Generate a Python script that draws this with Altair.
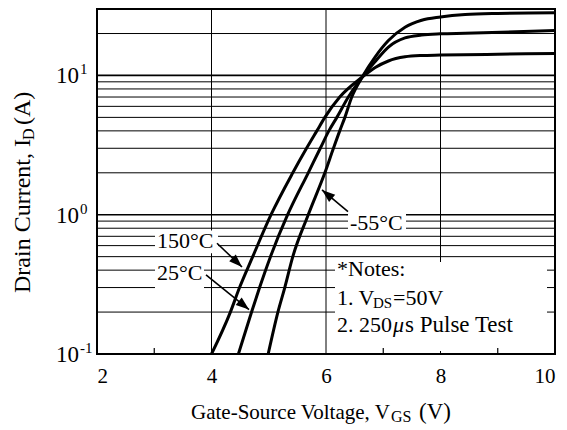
import altair as alt
import pandas as pd

# ---------------- data ----------------
vgs_150 = [4.00, 4.33, 4.49, 4.72, 5.04, 5.42, 5.66, 5.84, 5.98, 6.24, 6.63, 6.86, 7.09, 7.38, 7.67, 8.00, 9.00, 10.0]
id_150 = [0.1, 0.2, 0.3, 0.5, 1.0, 2.0, 3.0, 4.0, 5.0, 7.0, 9.7, 11.4, 12.7, 13.6, 13.9, 14.0, 14.2, 14.4]

vgs_25 = [4.47, 4.70, 4.84, 5.03, 5.33, 5.69, 5.90, 6.05, 6.19, 6.39, 6.63, 6.86, 7.09, 7.38, 7.67, 8.00, 8.43, 10.0]
id_25 = [0.1, 0.2, 0.3, 0.5, 1.0, 2.0, 3.0, 4.0, 5.0, 7.0, 9.7, 12.6, 16.0, 18.6, 19.5, 19.9, 20.1, 21.0]

vgs_m55 = [4.99, 5.16, 5.28, 5.42, 5.69, 5.98, 6.13, 6.24, 6.33, 6.45, 6.63, 6.86, 7.09, 7.38, 7.67, 8.00, 8.43, 9.00, 10.0]
id_m55 = [0.1, 0.2, 0.3, 0.5, 1.0, 2.0, 3.0, 4.0, 5.0, 7.0, 9.7, 13.6, 17.8, 22.2, 24.9, 26.3, 27.4, 27.9, 28.2]

series_names = ["150°C", "25°C", "-55°C"]

x_ticks = [2, 4, 6, 8, 10]
x_grid = [4, 6, 8]
x_minor = [3, 5, 7, 9]
y_grid_minor = [0.2, 0.3, 0.4, 0.5, 0.6, 0.7, 0.8, 0.9, 2, 3, 4, 5, 6, 7, 8, 9, 20]
y_grid_decade = [1, 10]
y_tick_vals = [0.1, 1, 10]
y_tick_exp = ["-1", "0", "1"]

# ---------------- layout ----------------
W, H = 458, 345
FONT = "Liberation Serif"
PAD_L, PAD_T = 89, 1


def rx(px):
    return px - 97


def ry(py):  # inside plot (reference plot spans y 5..354)
    return (py - 5) * H / 349


def ryo(py):  # outside plot, absolute
    return py - 9


xs = alt.Scale(domain=[2, 10], nice=False, zero=False)
ys = alt.Scale(type="log", domain=[0.1, 30], nice=False)

x_axis = alt.Axis(values=x_ticks, grid=False, ticks=False, tickSize=0, domain=False,
                  labelFont=FONT, labelFontSize=21, labelColor="black",
                  labelPadding=28, labelBaseline="alphabetic", labelFlush=True, title=None)

one = pd.DataFrame({"k": [0]})

curves = pd.DataFrame({
    "vgs": vgs_150 + vgs_25 + vgs_m55,
    "id": id_150 + id_25 + id_m55,
    "series": [series_names[0]] * len(vgs_150) + [series_names[1]] * len(vgs_25) + [series_names[2]] * len(vgs_m55),
})

layers = []

# horizontal grid lines
layers.append(alt.Chart(pd.DataFrame({"y": y_grid_minor})).mark_rule(color="black", strokeWidth=1).encode(
    y=alt.Y("y:Q", scale=ys, axis=None)))
layers.append(alt.Chart(pd.DataFrame({"y": y_grid_decade})).mark_rule(color="black", strokeWidth=1.7).encode(
    y=alt.Y("y:Q", scale=ys, axis=None)))
# vertical grid lines
layers.append(alt.Chart(pd.DataFrame({"x": x_grid})).mark_rule(color="black", strokeWidth=1).encode(
    x=alt.X("x:Q", scale=xs, axis=x_axis)))


def box(x1, x2, y1, y2):
    return alt.Chart(one).mark_rect(color="white").encode(
        x=alt.value(rx(x1)), x2=alt.value(rx(x2)), y=alt.value(ry(y1)), y2=alt.value(ry(y2)))


# white label backgrounds
layers += [box(155, 218, 229, 252), box(155, 204, 260, 290), box(348, 406, 209, 231), box(335, 547, 261, 351)]

# minor ticks on bottom axis
layers.append(alt.Chart(pd.DataFrame({"x": x_minor})).mark_rule(color="black", strokeWidth=1.2).encode(
    x=alt.X("x:Q", scale=xs, axis=x_axis), y=alt.value(H), y2=alt.value(H - 6)))

# curves
layers.append(alt.Chart(curves).mark_line(color="black", strokeWidth=3, interpolate="monotone", clip=True).encode(
    x=alt.X("vgs:Q", scale=xs, axis=x_axis),
    y=alt.Y("id:Q", scale=ys, axis=None),
    detail="series:N"))

HEAD = "M0,0L-0.36,1L0.36,1Z"


def arrow(x1, y1, x2, y2, ang):
    line = alt.Chart(one).mark_rule(color="black", strokeWidth=1.6).encode(
        x=alt.value(rx(x1)), y=alt.value(ry(y1)), x2=alt.value(rx(x2)), y2=alt.value(ry(y2)))
    head = alt.Chart(one).mark_point(shape=HEAD, size=700, filled=True, color="black", opacity=1,
                                     angle=ang, strokeWidth=0).encode(
        x=alt.value(rx(x2)), y=alt.value(ry(y2)))
    return [line, head]


layers += arrow(217, 242, 242, 266, 134)
layers += arrow(206, 274, 249, 309, 129)
layers += arrow(348, 210, 322, 188, 310)


def txt(s, x, y, size=21, align="left", baseline="alphabetic", angle=0, style="normal"):
    kw = dict(text=s, font=FONT, fontSize=size, align=align, baseline=baseline,
              color="black", fontStyle=style)
    if angle:
        kw["angle"] = angle
    return alt.Chart(one).mark_text(**kw).encode(x=alt.value(x), y=alt.value(y))


# curve labels
layers.append(txt(series_names[0], rx(157), ry(240), 22, baseline="middle"))
layers.append(txt(series_names[1], rx(157), ry(272), 22, baseline="middle"))
layers.append(txt(series_names[2], rx(350), ry(221), 22, baseline="middle"))

# notes
layers.append(txt("*Notes:", rx(337), ry(275), 22))
layers.append(txt("1. V", rx(337), ry(304), 22))
layers.append(txt("DS", rx(373), ry(307), 15))
layers.append(txt("=50V", rx(393), ry(304), 22))
layers.append(txt("2. 250", rx(337), ry(332), 22))
layers.append(txt("\u03bc", rx(393), ry(332), 22, style="italic"))
layers.append(txt("s Pulse Test", rx(405), ry(332), 23))

# y tick labels (10 with superscript exponent)
ylab = pd.DataFrame({"v": y_tick_vals, "e": y_tick_exp})
layers.append(alt.Chart(ylab).mark_text(text="10", font=FONT, fontSize=23, align="right", baseline="middle",
                                        color="black", dy=1).encode(
    x=alt.value(rx(79)), y=alt.Y("v:Q", scale=ys, axis=None)))
layers.append(alt.Chart(ylab).mark_text(font=FONT, fontSize=15, align="left", baseline="middle",
                                        color="black", dy=-6).encode(
    x=alt.value(rx(80)), y=alt.Y("v:Q", scale=ys, axis=None), text="e:N"))

# x title with subscript
TY = ryo(419)
layers.append(txt("Gate-Source Voltage, V", rx(191), TY, 21))
layers.append(txt("GS", rx(391), TY + 3, 16))
layers.append(txt("(V)", rx(419), TY, 23))

# y title (rotated) with subscript
YX = rx(23)
Y0 = ryo(293)
layers.append(txt("Drain Current, I", YX, Y0, 24, baseline="middle", angle=270))
layers.append(txt("D", YX + 6, Y0 - 153, 16, baseline="middle", angle=270))
layers.append(txt("(A)", YX, Y0 - 168, 24, baseline="middle", angle=270))

chart = alt.layer(*layers).properties(
    width=W, height=H,
    autosize=alt.AutoSizeParams(type="none"),
    padding={"left": PAD_L, "top": PAD_T, "right": 4, "bottom": 421 - H - PAD_T},
).configure_view(stroke="black", strokeWidth=2)

chart.save("out.html", embed_options={"renderer": "svg", "actions": False})
